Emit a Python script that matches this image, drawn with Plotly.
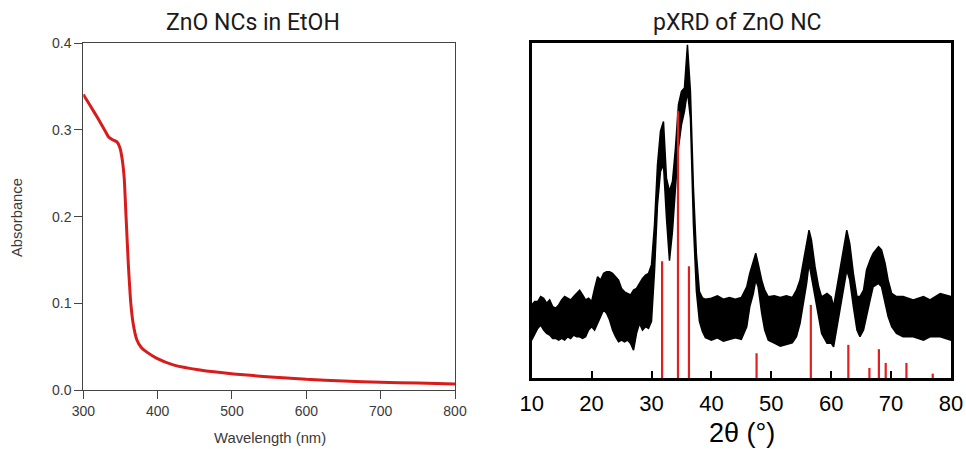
import plotly.graph_objects as go

# ---------------- UV-Vis data (left) ----------------
wavelength_nm = [300, 310, 320, 330, 334, 340, 345, 349, 352, 355, 357.5, 360.5,
                 363.5, 367, 372, 378, 385, 399, 421, 457, 502, 547, 600, 650,
                 700, 750, 800]
absorbance = [0.341, 0.327, 0.313, 0.298, 0.292, 0.2885, 0.2865, 0.280, 0.268, 0.245,
              0.200, 0.146, 0.104, 0.077, 0.058, 0.049, 0.044, 0.0365, 0.029, 0.023,
              0.0185, 0.0154, 0.0123, 0.0105, 0.0088, 0.0080, 0.0070]

# ---------------- pXRD data (right) ----------------
two_theta = [10, 10.5, 11, 11.5, 12, 12.5, 13, 13.5, 14, 14.5, 15, 15.5, 16, 16.5, 17,
             17.5, 18, 18.5, 19, 19.5, 20, 20.5, 21, 21.5, 22, 22.5, 23, 23.5, 24, 24.5,
             25, 25.5, 26, 26.5, 27, 27.5, 28, 28.5, 29, 29.5, 30.0, 30.5, 31.0, 31.5,
             32.0, 32.5, 33.0, 33.5, 34.0, 34.5, 35.0, 35.5, 36.0, 36.5, 37.0, 37.5,
             38.0, 38.5, 39, 40, 41, 42, 43, 44, 45, 45.9, 46.4, 47.0, 47.4, 47.8, 48.4,
             48.9, 49.5, 50.5, 51.5, 52.5, 53.5, 54.2, 54.8, 55.3, 55.9, 56.3, 56.7,
             57.3, 57.9, 58.4, 59.3, 60.0, 60.4, 60.9, 61.5, 62.0, 62.6, 63.1, 63.7,
             64.3, 64.8, 65.4, 65.9, 66.5, 67.0, 67.9, 68.4, 69.0, 69.5, 70.1, 70.9,
             72.0, 73.7, 75.4, 76.5, 78.2, 80]
intensity_upper = [21.8, 22.8, 22.8, 24.3, 23.8, 22.3, 23.3, 21.3, 20.8, 21.8, 23.3, 24.3,
                   23.8, 23.3, 24.3, 25.2, 26.2, 24.8, 23.3, 23.8, 22.8, 26.7, 30.2, 29.2,
                   31.2, 31.7, 31.7, 31.2, 30.2, 29.2, 26.7, 25.7, 25.2, 24.8, 26.2, 26.7,
                   28.2, 29.7, 30.7, 31.2, 33.8, 45.7, 63.6, 73.6, 76.5, 59.6, 55.7, 58.6,
                   68.6, 81.5, 85.5, 86.5, 99.4, 85.5, 56.7, 36.8, 25.8, 23.9, 23.5, 23.8,
                   24.5, 23.5, 24.0, 23.5, 24.0, 27.2, 31.2, 35.2, 37.2, 34.2, 29.2, 26.2,
                   24.2, 24.5, 24.0, 24.5, 24.0, 26.2, 29.2, 34.2, 40.2, 44.1, 41.2, 33.2,
                   27.2, 24.2, 25.2, 24.2, 21.3, 26.2, 32.2, 38.2, 44.1, 40.1, 31.2, 24.3,
                   24.3, 26.2, 32.2, 35.2, 37.2, 39.2, 38.2, 34.2, 29.2, 25.2, 24.3, 24.3,
                   23.3, 24.3, 23.3, 25.2, 24.3]
intensity_lower = [11.3, 12.8, 14.8, 15.8, 14.3, 13.3, 12.8, 11.8, 11.8, 11.3, 11.8, 11.3,
                   12.3, 11.8, 12.8, 12.3, 12.3, 11.8, 12.3, 14.3, 15.3, 14.3, 16.3, 18.3,
                   20.3, 19.3, 17.3, 14.3, 12.3, 10.8, 11.3, 10.8, 11.3, 10.3, 8.3, 13.3,
                   16.3, 14.3, 15.3, 14.8, 16.9, 31.8, 51.7, 61.6, 63.6, 47.7, 35.0, 43.7,
                   56.7, 68.6, 75.5, 79.5, 85.5, 77.5, 45.7, 25.8, 16.9, 13.9, 12.0, 11.3,
                   12.0, 11.0, 11.5, 12.0, 11.5, 15.3, 21.2, 25.2, 29.2, 27.2, 19.3, 14.3,
                   11.3, 10.4, 9.5, 10.0, 10.5, 12.3, 16.3, 21.2, 28.2, 34.2, 31.2, 24.2,
                   18.3, 13.3, 10.4, 10.4, 9.3, 14.3, 20.3, 26.2, 32.2, 29.2, 21.3, 14.3,
                   12.3, 14.3, 18.3, 23.3, 27.2, 28.2, 27.2, 22.3, 18.3, 15.3, 13.3, 12.3,
                   12.3, 11.3, 12.3, 12.3, 11.3]

# Reference (stick) pattern
ref_positions = [31.77, 34.42, 36.25, 47.54, 56.60, 62.86, 66.38, 67.96, 69.10, 72.56, 76.95]
ref_heights = [34.8, 79.6, 33.3, 7.4, 21.8, 9.9, 3.0, 8.6, 4.5, 4.5, 1.3]

x_ticks_uv = [300, 400, 500, 600, 700, 800]
y_ticks_uv = [0.0, 0.1, 0.2, 0.3, 0.4]
x_ticks_xrd = [10, 20, 30, 40, 50, 60, 70, 80]

W, H = 966, 449


def px_x(p):
    return p / W


def px_y(p):
    return 1 - p / H


fig = go.Figure()

fig.add_trace(go.Scatter(
    x=wavelength_nm, y=absorbance, mode="lines",
    line=dict(color="#d81c1c", width=3, shape="spline", smoothing=0.4),
    xaxis="x", yaxis="y", showlegend=False, hoverinfo="skip"))

band_x = two_theta + two_theta[::-1]
band_y = intensity_upper + intensity_lower[::-1]
fig.add_trace(go.Scatter(
    x=band_x, y=band_y, mode="lines", fill="toself", fillcolor="black",
    line=dict(color="black", width=1.5),
    xaxis="x2", yaxis="y2", showlegend=False, hoverinfo="skip"))

stick_x, stick_y = [], []
for p, h in zip(ref_positions, ref_heights):
    stick_x += [p, p, None]
    stick_y += [0, h, None]
fig.add_trace(go.Scatter(
    x=stick_x, y=stick_y, mode="lines", line=dict(color="#e0201e", width=2.2),
    xaxis="x2", yaxis="y2", showlegend=False, hoverinfo="skip"))

left_font = dict(family="Liberation Sans, Arial, sans-serif", size=14, color="#3a3a3a")
left_title_font = dict(family="Liberation Sans, Arial, sans-serif", size=14.8, color="#3a3a3a")
right_font = dict(family="Liberation Sans, Arial, sans-serif", size=22, color="black")

fig.update_layout(
    width=W, height=H,
    margin=dict(l=0, r=0, t=0, b=0, autoexpand=False),
    paper_bgcolor="white", plot_bgcolor="white",
    xaxis=dict(domain=[px_x(83.3), px_x(455)], range=[300, 800],
               tickvals=x_ticks_uv, ticks="outside", ticklen=8, tickcolor="#444",
               showline=True, linecolor="#444", linewidth=1, mirror=True,
               showgrid=False, zeroline=False, tickfont=left_font, anchor="y",
               automargin=False),
    yaxis=dict(domain=[px_y(390), px_y(43.3)], range=[0, 0.4],
               tickvals=y_ticks_uv, tickformat=".1f", ticks="outside", ticklen=8,
               tickcolor="#444", showline=True, linecolor="#444", linewidth=1,
               mirror=True, showgrid=False, zeroline=False, tickfont=left_font,
               anchor="x", automargin=False),
    xaxis2=dict(domain=[px_x(531.7), px_x(951)], range=[10, 80],
                tickvals=x_ticks_xrd, ticks="inside", ticklen=7, tickwidth=2,
                tickcolor="black", showline=True, linecolor="black", linewidth=2.5,
                mirror=True, showgrid=False, zeroline=False, tickfont=right_font,
                ticklabelstandoff=4, anchor="y2", automargin=False),
    yaxis2=dict(domain=[px_y(378), px_y(42.7)], range=[0, 100],
                showticklabels=False, ticks="", showline=True, linecolor="black",
                linewidth=2.5, mirror=True, showgrid=False, zeroline=False,
                anchor="x2", automargin=False),
    annotations=[
        dict(text="ZnO NCs in EtOH", x=px_x(253), y=px_y(23), xref="paper", yref="paper",
             showarrow=False, xanchor="center", yanchor="middle",
             font=dict(family="Roboto, sans-serif", size=23, color="#1a1a1a")),
        dict(text="pXRD of ZnO NC", x=px_x(737), y=px_y(22), xref="paper", yref="paper",
             showarrow=False, xanchor="center", yanchor="middle",
             font=dict(family="Roboto, sans-serif", size=23, color="#1a1a1a")),
        dict(text="Absorbance", x=px_x(17), y=px_y(218), xref="paper", yref="paper",
             showarrow=False, textangle=-90, xanchor="center", yanchor="middle",
             font=left_title_font),
        dict(text="Wavelength (nm)", x=px_x(270), y=px_y(438), xref="paper", yref="paper",
             showarrow=False, xanchor="center", yanchor="middle", font=left_title_font),
        dict(text="2θ (°)", x=px_x(742), y=px_y(433), xref="paper", yref="paper",
             showarrow=False, xanchor="center", yanchor="middle",
             font=dict(family="Liberation Sans, Arial, sans-serif", size=27, color="black")),
    ],
)

fig.write_html(
    "out.html",
    config={"displayModeBar": False},
    post_script="document.body.style.margin='0';document.body.style.overflow='hidden';",
)
